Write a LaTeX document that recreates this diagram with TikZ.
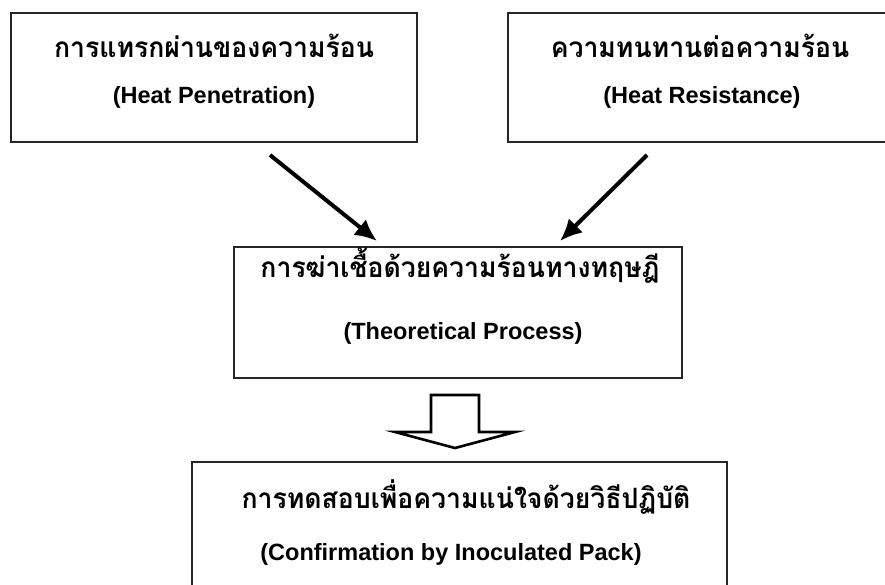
\documentclass[tikz,border=0pt]{standalone}
\usepackage{fontspec}
\setmainfont{Liberation Sans}
\newfontfamily\thaifont[Script=Thai,FakeStretch=0.95]{Loma}
\usetikzlibrary{arrows.meta}
\tikzset{
  box/.style={draw=black!85, line width=1.6pt, rectangle, inner sep=0pt},
  thai/.style={font=\thaifont\bfseries\fontsize{28}{32}\selectfont, inner sep=0pt},
  eng/.style={font=\bfseries\fontsize{23.5}{28}\selectfont, inner sep=0pt},
  flow/.style={line width=4pt, -{Latex[length=22pt,width=20pt]}},
  blockarrow/.style={draw=black, line width=2.6pt, fill=white, line join=miter}
}
\begin{document}
\begin{tikzpicture}[x=1pt,y=-1pt]
\useasboundingbox (0,0) rectangle (885,584);
\clip (0,0) rectangle (885,584);
% boxes
\node[box, minimum width=406pt, minimum height=129pt] (tl) at (214,77.5) {};
\node[box, minimum width=384pt, minimum height=129pt] (tr) at (700,77.5) {};
\node[box, minimum width=448pt, minimum height=131pt] (mid) at (458,312.5) {};
\node[box, minimum width=535pt, minimum height=148pt] (bot) at (459.5,536) {};
% texts
\node[thai] (tlth) at (214,46) {การแทรกผ่านของความร้อน};
\node[eng]  (tlen) at (214,97) {(Heat Penetration)};
\node[thai] (trth) at (700,46) {ความทนทานต่อความร้อน};
\node[eng]  (tren) at (702,97) {(Heat Resistance)};
\node[thai] (midth) at (460,266) {การฆ่าเชื้อด้วยความร้อนทางทฤษฎี};
\node[eng]  (miden) at (463,333) {(Theoretical Process)};
\node[thai] (botth) at (466,497) {การทดสอบเพื่อความแน่ใจด้วยวิธีปฏิบัติ};
\node[eng]  (boten) at (451,554) {(Confirmation by Inoculated Pack)};
% arrows
\coordinate (a1s) at (270,155);
\coordinate (a1e) at (377,241);
\coordinate (a2s) at (647,155);
\coordinate (a2e) at (560,241);
\draw[flow] (a1s) -- (a1e);
\draw[flow] (a2s) -- (a2e);
% block arrow
\draw[blockarrow] (431,395) -- (479,395) -- (479,432) -- (515,432) -- (455,448) -- (395,432) -- (431,432) -- cycle;
\end{tikzpicture}
\end{document}
